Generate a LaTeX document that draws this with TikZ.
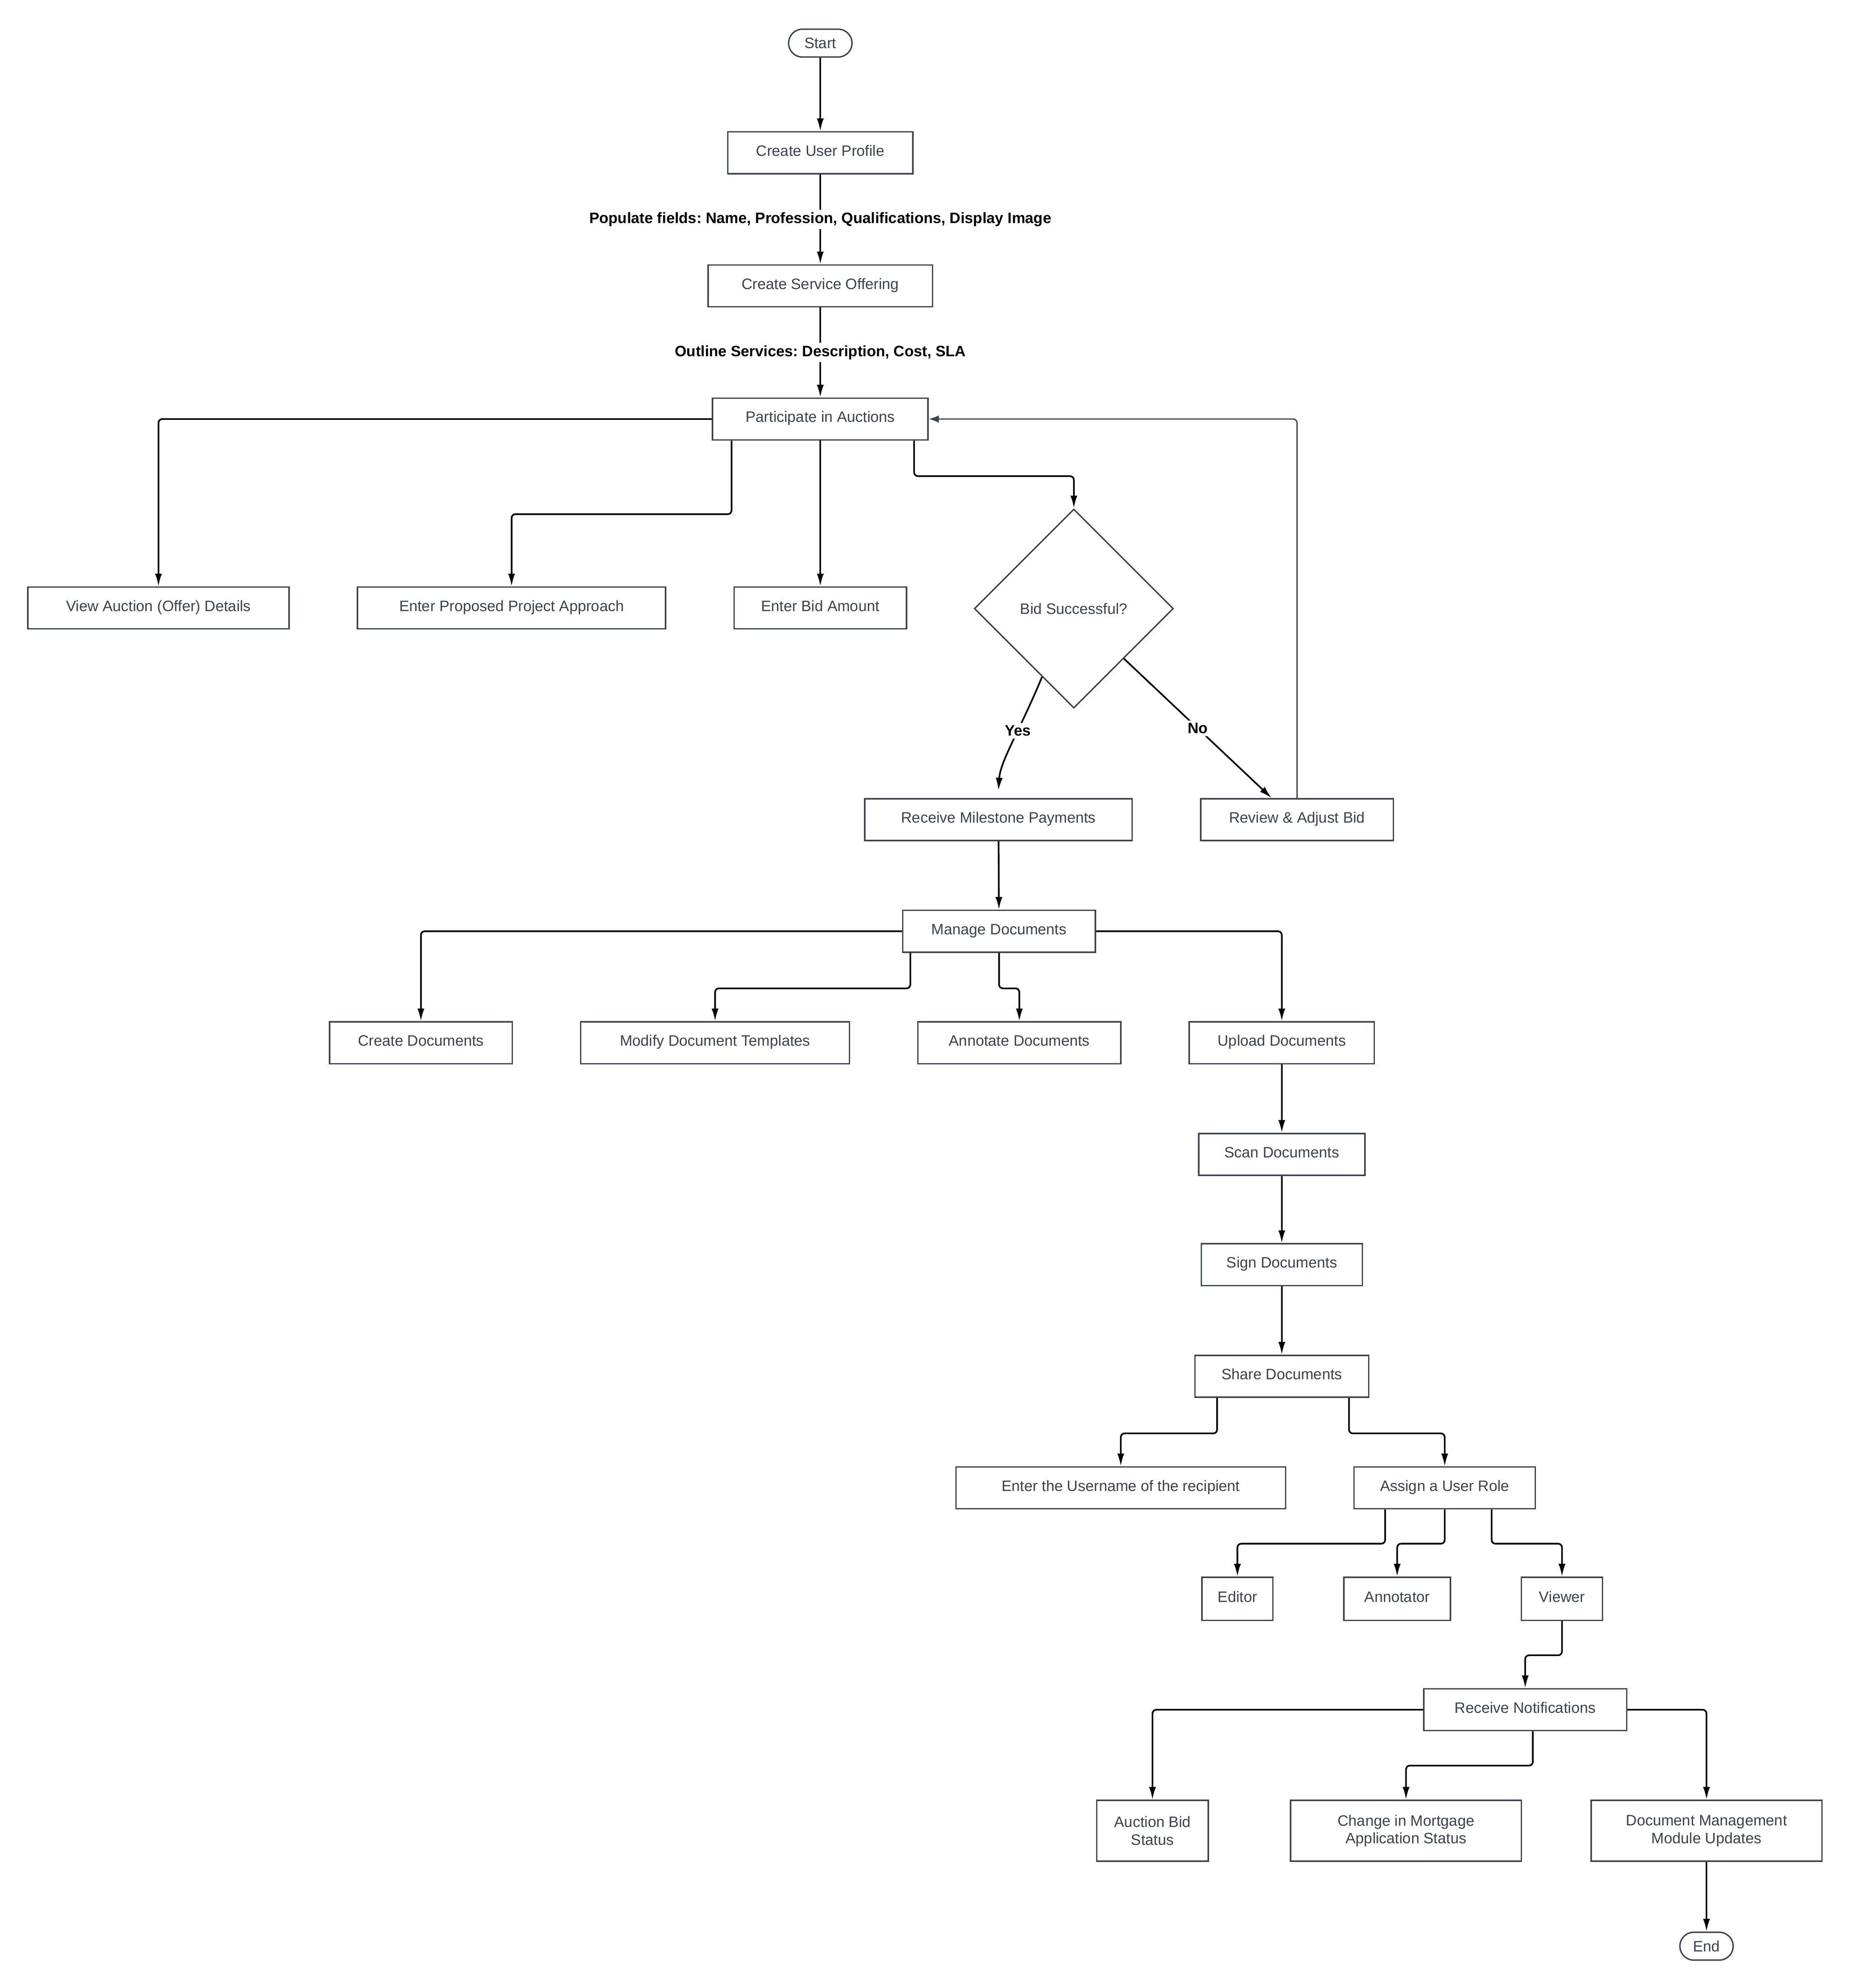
\documentclass[tikz,border=0pt]{standalone}
\usepackage{fontspec}
\setmainfont{Liberation Sans}
\frenchspacing
\usetikzlibrary{arrows.meta,shapes.geometric}
\definecolor{slate}{HTML}{3B424C}
\tikzset{
  base/.style={draw=slate,line width=1.1pt,text=slate,font=\fontsize{11.9}{14}\selectfont,minimum height=33pt,inner sep=2pt,align=center},
  box/.style={base,text height=9pt,text depth=4pt},
  pair/.style={base,minimum height=48pt},
  term/.style={base,rounded corners=11pt,minimum height=22pt},
  ask/.style={base,diamond,minimum width=157pt,minimum height=157pt,inner sep=0pt},
  flow/.style={line width=1.3pt,rounded corners=3pt,-{Latex[length=10pt,width=5.5pt]}},
  back/.style={draw=slate,line width=1pt,rounded corners=3pt,-{Latex[length=8pt,width=6pt]}},
  lbl/.style={fill=white,text=black,inner sep=2pt,font=\bfseries\fontsize{11.9}{14}\selectfont}
}
\begin{document}
\begin{tikzpicture}[x=1pt,y=-1pt]
\useasboundingbox (0,0) rectangle (1459,1568);
\node[term,minimum width=50pt] (start) at (647,34) {Start};
\node[box,minimum width=146pt] (profile) at (647,120.5) {Create User Profile};
\node[box,minimum width=177pt] (offer) at (647,225.5) {Create Service Offering};
\node[box,minimum width=170pt] (auction) at (647,330.5) {Participate in Auctions};
\node[box,minimum width=206pt] (details) at (125,479.5) {View Auction (Offer) Details};
\node[box,minimum width=243pt] (approach) at (403.5,479.5) {Enter Proposed Project Approach};
\node[box,minimum width=136pt] (amount) at (647,479.5) {Enter Bid Amount};
\node[ask] (won) at (847,480) {Bid Successful?};
\node[box,minimum width=211pt] (payments) at (787.5,646.5) {Receive Milestone Payments};
\node[box,minimum width=152pt] (adjust) at (1023,646.5) {Review \& Adjust Bid};
\node[box,minimum width=152pt] (manage) at (788,734.5) {Manage Documents};
\node[box,minimum width=144pt] (create) at (332,822.5) {Create Documents};
\node[box,minimum width=212pt] (templates) at (564,822.5) {Modify Document Templates};
\node[box,minimum width=160pt] (annotate) at (804,822.5) {Annotate Documents};
\node[box,minimum width=146pt] (upload) at (1011,822.5) {Upload Documents};
\node[box,minimum width=131pt] (scan) at (1011,910.5) {Scan Documents};
\node[box,minimum width=127pt] (sign) at (1011,997.5) {Sign Documents};
\node[box,minimum width=137pt] (share) at (1011,1085.5) {Share Documents};
\node[box,minimum width=260pt] (recipient) at (884,1173.5) {Enter the Username of the recipient};
\node[box,minimum width=143pt] (role) at (1139.5,1173.5) {Assign a User Role};
\node[box,minimum width=56pt,minimum height=34pt] (editor) at (976,1261) {Editor};
\node[box,minimum width=84pt,minimum height=34pt] (annotator) at (1102,1261) {Annotator};
\node[box,minimum width=64pt,minimum height=34pt] (viewer) at (1232,1261) {Viewer};
\node[box,minimum width=160pt] (notify) at (1203,1348.5) {Receive Notifications};
\node[pair,minimum width=88pt] (bidstatus) at (909,1444) {Auction Bid\\Status};
\node[pair,minimum width=182pt] (mortgage) at (1109,1444) {Change in Mortgage\\Application Status};
\node[pair,minimum width=182pt] (modules) at (1346,1444) {Document Management\\Module Updates};
\node[term,minimum width=42pt] (end) at (1346,1535) {End};
\draw[flow] (start) -- (profile);
\draw[flow] (profile) -- node[lbl] {Populate fields: Name, Profession, Qualifications, Display Image} (offer);
\draw[flow] (offer) -- node[lbl] {Outline Services: Description, Cost, SLA} (auction);
\draw[flow] (auction.west) -| (details);
\draw[flow] ([xshift=-70pt]auction.south) -- ++(0,58) -| (approach);
\draw[flow] (auction) -- (amount);
\draw[flow] ([xshift=74pt]auction.south) -- ++(0,28) -| (won);
\draw[flow] (won.245) .. controls (805,575) and (789,600) .. ([yshift=6pt]payments.north) node[lbl,pos=0.4] {Yes};
\draw[flow] (won.315) -- node[lbl] {No} ([xshift=-20pt]adjust.north);
\draw[back] (adjust) |- (auction);
\draw[flow] (payments) -- (manage);
\draw[flow] (manage.west) -| (create);
\draw[flow] ([xshift=-70pt]manage.south) -- ++(0,28) -| (templates);
\draw[flow] (manage.south) -- ++(0,28) -| (annotate);
\draw[flow] (manage.east) -| (upload);
\draw[flow] (upload) -- (scan);
\draw[flow] (scan) -- (sign);
\draw[flow] (sign) -- (share);
\draw[flow] ([xshift=-51pt]share.south) -- ++(0,28) -| (recipient);
\draw[flow] ([xshift=53pt]share.south) -- ++(0,28) -| (role);
\draw[flow] ([xshift=-47pt]role.south) -- ++(0,27) -| (editor);
\draw[flow] (role.south) -- ++(0,27) -| (annotator);
\draw[flow] ([xshift=37pt]role.south) -- ++(0,27) -| (viewer);
\draw[flow] (viewer.south) -- ++(0,27) -| (notify);
\draw[flow] (notify.west) -| (bidstatus);
\draw[flow] ([xshift=6pt]notify.south) -- ++(0,27) -| (mortgage);
\draw[flow] (notify.east) -| (modules);
\draw[flow] (modules) -- (end);
\end{tikzpicture}
\end{document}
